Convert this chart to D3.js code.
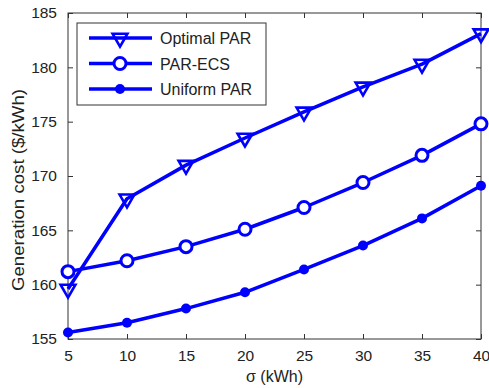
<!DOCTYPE html>
<html>
<head>
<meta charset="utf-8">
<script src="https://cdnjs.cloudflare.com/ajax/libs/d3/7.8.5/d3.min.js"></script>
<style>
  body { margin: 0; background: #fff; }
  text { font-family: "Liberation Sans", Arial, sans-serif; }
</style>
</head>
<body>
<div id="chart"></div>
<script>
const sigma = [5, 10, 15, 20, 25, 30, 35, 40];
const optimalPAR = [159.6, 167.9, 171.0, 173.5, 175.9, 178.2, 180.3, 183.1];
const parECS = [161.2, 162.2, 163.5, 165.1, 167.1, 169.4, 171.9, 174.8];
const uniformPAR = [155.6, 156.5, 157.8, 159.3, 161.4, 163.6, 166.1, 169.1];
const xTicks = [5, 10, 15, 20, 25, 30, 35, 40];
const yTicks = [155, 160, 165, 170, 175, 180, 185];
const seriesNames = ["Optimal PAR", "PAR-ECS", "Uniform PAR"];

const W = 489, H = 388;
const margin = { left: 68, right: 8, top: 13, bottom: 49 };
const blue = "#0000ff";

const svg = d3.select("#chart").append("svg")
  .attr("width", W).attr("height", H);

const x = d3.scaleLinear().domain([5, 40]).range([margin.left, W - margin.right]);
const y = d3.scaleLinear().domain([155, 185]).range([H - margin.bottom, margin.top]);

// frame
svg.append("rect")
  .attr("x", x(5)).attr("y", y(185))
  .attr("width", x(40) - x(5)).attr("height", y(155) - y(185))
  .attr("fill", "none").attr("stroke", "#333").attr("stroke-width", 1);

// axes (inward ticks)
const fmt = d3.format("d");
svg.append("g").attr("transform", `translate(0,${y(155)})`)
  .call(d3.axisBottom(x).tickValues(xTicks).tickFormat(fmt).tickSizeInner(-5).tickSizeOuter(0).tickPadding(11))
  .call(g => g.select(".domain").remove());
svg.append("g").attr("transform", `translate(0,${y(185)})`)
  .call(d3.axisTop(x).tickValues(xTicks).tickFormat("").tickSizeInner(-5).tickSizeOuter(0))
  .call(g => g.select(".domain").remove());
svg.append("g").attr("transform", `translate(${x(5)},0)`)
  .call(d3.axisLeft(y).tickValues(yTicks).tickFormat(fmt).tickSizeInner(-5).tickSizeOuter(0).tickPadding(11))
  .call(g => g.select(".domain").remove());
svg.append("g").attr("transform", `translate(${x(40)},0)`)
  .call(d3.axisRight(y).tickValues(yTicks).tickFormat("").tickSizeInner(-5).tickSizeOuter(0))
  .call(g => g.select(".domain").remove());

svg.selectAll(".tick line").attr("stroke", "#333");
svg.selectAll(".tick text").attr("font-size", 15.5).attr("fill", "#222")
  .attr("font-family", "'Liberation Sans', Arial, sans-serif");

// axis labels
svg.append("text")
  .attr("x", (x(5) + x(40)) / 2).attr("y", 382)
  .attr("text-anchor", "middle").attr("font-size", 16).attr("fill", "#222")
  .text("σ (kWh)");
svg.append("text")
  .attr("transform", `translate(24,190) rotate(-90)`)
  .attr("text-anchor", "middle").attr("font-size", 16).attr("fill", "#222")
  .attr("textLength", 202).attr("lengthAdjust", "spacingAndGlyphs")
  .text("Generation cost ($/kWh)");

const line = d3.line().x(d => x(d[0])).y(d => y(d[1]));
const tri = d3.symbol().type(d3.symbolTriangle).size(95);

function drawMarker(g, kind, cx, cy) {
  if (kind === 0) {
    g.append("path").attr("d", tri())
      .attr("transform", `translate(${cx},${cy}) rotate(180)`)
      .attr("fill", "none").attr("stroke", blue).attr("stroke-width", 2.6);
  } else if (kind === 1) {
    g.append("circle").attr("cx", cx).attr("cy", cy).attr("r", 6)
      .attr("fill", "#fff").attr("stroke", blue).attr("stroke-width", 3);
  } else {
    g.append("circle").attr("cx", cx).attr("cy", cy).attr("r", 5)
      .attr("fill", blue);
  }
}

const allSeries = [optimalPAR, parECS, uniformPAR];
allSeries.forEach((vals, k) => {
  const pts = sigma.map((s, i) => [s, vals[i]]);
  const g = svg.append("g");
  g.append("path").datum(pts).attr("d", line)
    .attr("fill", "none").attr("stroke", blue).attr("stroke-width", 3.5)
    .attr("stroke-linejoin", "round");
  pts.forEach(p => drawMarker(g, k, x(p[0]), y(p[1])));
});

// legend
const lg = svg.append("g");
lg.append("rect").attr("x", 77).attr("y", 23).attr("width", 189).attr("height", 82)
  .attr("fill", "#fff").attr("stroke", "#333").attr("stroke-width", 1);
seriesNames.forEach((name, k) => {
  const ry = 38 + k * 25.5;
  lg.append("line").attr("x1", 89).attr("x2", 152).attr("y1", ry).attr("y2", ry)
    .attr("stroke", blue).attr("stroke-width", 3.5);
  drawMarker(lg, k, 120, ry);
  lg.append("text").attr("x", 160).attr("y", ry + 6).attr("font-size", 16)
    .attr("fill", "#222").text(name);
});
</script>
</body>
</html>
